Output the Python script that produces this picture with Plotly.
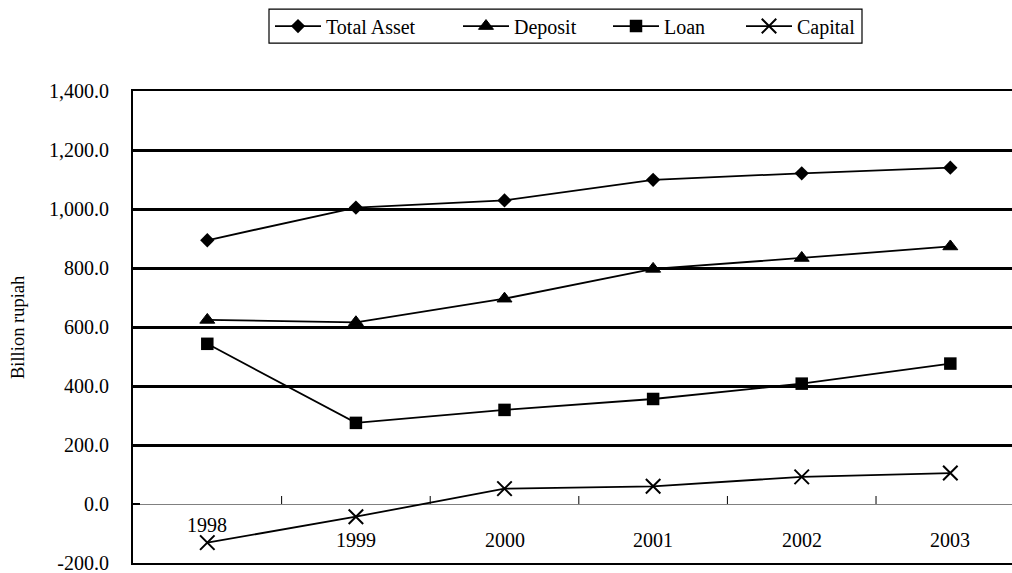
import plotly.graph_objects as go

# Bank balance-sheet indicators, billion rupiah
years = ["1998", "1999", "2000", "2001", "2002", "2003"]
total_asset = [894, 1005, 1029, 1099, 1121, 1140]
deposit = [624, 616, 696, 797, 834, 873]
loan = [543, 275, 319, 356, 408, 476]
capital = [-131, -43, 52, 60, 92, 105]

y_tickvals = [-200, 0, 200, 400, 600, 800, 1000, 1200, 1400]
y_ticktext = ["-200.0", "0.0", "200.0", "400.0", "600.0", "800.0",
              "1,000.0", "1,200.0", "1,400.0"]

FONT = "Liberation Serif, Times New Roman, serif"

# plot-area geometry in pixels (used to place items in paper coordinates)
W, H = 1012, 573
L, T, B = 133, 91, 9.5
PW, PH = W - L, H - T - B


def px_x(px):
    return (px - L) / PW


def px_y(py):
    return 1 + (T - py) / PH


series = [
    ("Total Asset", total_asset, dict(symbol="diamond", size=11)),
    ("Deposit", deposit, dict(symbol="triangle-up", size=13,
                              line=dict(color="black", width=1))),
    ("Loan", loan, dict(symbol="square", size=12.5)),
    ("Capital", capital, dict(symbol="x-thin", size=14.5,
                              line=dict(color="black", width=2))),
]
legend_ids = ["legend", "legend2", "legend3", "legend4"]
legend_left = [270, 458, 608, 741]

fig = go.Figure()
for (name, vals, marker), lid in zip(series, legend_ids):
    fig.add_trace(go.Scatter(
        x=list(range(len(years))), y=vals, name=name, mode="lines+markers",
        line=dict(color="black", width=1.8),
        marker=dict(color="black", **marker),
        legend=lid, showlegend=True,
    ))

# legend frame shared by the four entries
shapes = [dict(
    type="rect", xref="paper", yref="paper",
    x0=px_x(269), x1=px_x(862), y0=px_y(43), y1=px_y(9),
    line=dict(color="black", width=1.2), fillcolor="rgba(0,0,0,0)",
)]

# tick marks between categories on the zero line
for i in range(len(years)):
    shapes.append(dict(
        type="line", xref="x", yref="y", x0=i + 0.5, x1=i + 0.5,
        ysizemode="pixel", yanchor=0, y0=0, y1=8,
        line=dict(color="black", width=1),
    ))

# year labels sit below the zero line; the first one is raised above its point
annotations = []
for i, yr in enumerate(years):
    annotations.append(dict(
        x=i, y=0, xref="x", yref="y", text=yr, showarrow=False,
        yshift=-21 if i == 0 else -36,
        font=dict(family=FONT, size=20, color="black"),
    ))

annotations.append(dict(
    text="Billion rupiah", textangle=-90, showarrow=False,
    xref="paper", yref="paper", x=px_x(18), y=0.5,
    xanchor="center", yanchor="middle",
    font=dict(family=FONT, size=18.5, color="black"),
))

legend_style = dict(
    orientation="h", xanchor="left", y=px_y(26), yanchor="middle",
    borderwidth=0, bgcolor="rgba(0,0,0,0)", itemwidth=46,
    font=dict(family=FONT, size=20, color="black"),
)
legends = {lid: dict(x=px_x(lx), **legend_style)
           for lid, lx in zip(legend_ids, legend_left)}

fig.update_layout(
    width=W, height=H,
    margin=dict(l=L, r=0, t=T, b=B),
    paper_bgcolor="white", plot_bgcolor="white",
    font=dict(family=FONT, size=20, color="black"),
    showlegend=True,
    shapes=shapes, annotations=annotations,
    **legends,
    xaxis=dict(
        range=[-0.5, 5.415], showticklabels=False, ticks="",
        showgrid=False, zeroline=False,
        showline=True, mirror=True, linecolor="black", linewidth=2,
    ),
    yaxis=dict(
        range=[-200, 1400], tickvals=y_tickvals, ticktext=y_ticktext,
        showgrid=True, gridcolor="black", gridwidth=2.5,
        zeroline=True, zerolinecolor="#808080", zerolinewidth=1,
        showline=True, mirror=False, linecolor="black", linewidth=2,
        ticks="inside", ticklen=7, tickcolor="black", tickwidth=1.5,
        ticklabelstandoff=18, ticklabeloverflow="allow",
        tickfont=dict(family=FONT, size=20, color="black"),
    ),
)

fig.write_html("out.html")
